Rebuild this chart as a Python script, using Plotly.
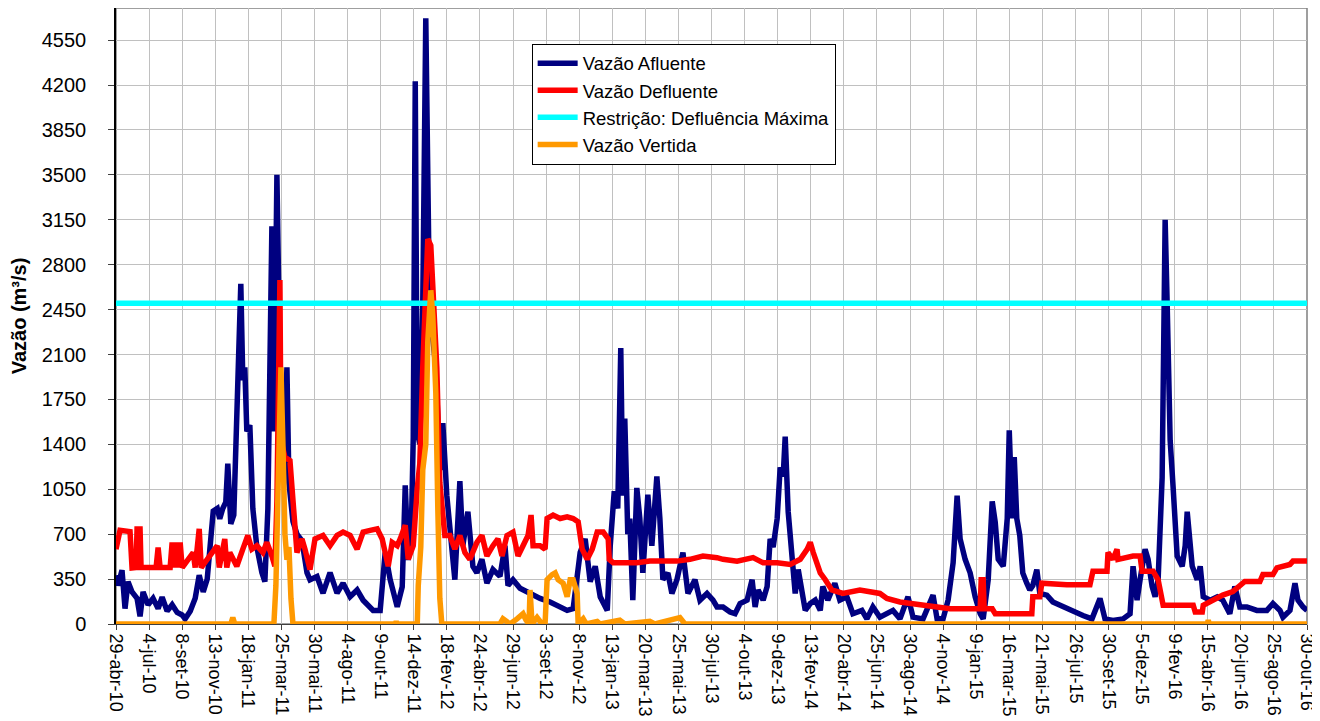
import pandas as pd
import plotly.graph_objects as go

inicio = pd.Timestamp("2010-04-29")

# dias contados a partir de 29-abr-10
afl_dia = [0, 4, 12, 18, 24, 32, 42, 48, 54, 64, 74, 84, 92, 102, 112, 122, 132, 138, 148, 158,
           166, 174, 182, 190, 194, 202, 207, 213, 219, 223, 229, 235, 241, 249, 253, 257, 261, 267,
           273, 281, 291, 297, 303, 307, 311, 315, 319, 321, 325, 331, 337, 341, 345, 353, 361, 371,
           381, 387, 401, 413, 427, 441, 453, 467, 481, 493, 513, 527, 537, 547, 561, 571, 577, 583,
           589, 593, 597, 601, 606, 612, 618, 622, 626, 630, 638, 646, 652, 660, 666, 676, 686, 692,
           702, 712, 720, 730, 740, 752, 766, 776, 782, 792, 806, 826, 846, 866, 886, 900, 912, 920,
           926, 936, 946, 956, 966, 980, 986, 994, 1001, 1007, 1011, 1015, 1021, 1025, 1031, 1039,
           1045, 1051, 1061, 1069, 1079, 1085, 1091, 1101, 1109, 1119, 1131, 1141, 1155, 1165, 1179,
           1191, 1199, 1211, 1225, 1235, 1245, 1259, 1269, 1275, 1281, 1291, 1299, 1305, 1311, 1319,
           1325, 1331, 1335, 1341, 1349, 1355, 1361, 1369, 1375, 1385, 1395, 1405, 1410, 1420, 1434,
           1444, 1458, 1470, 1488, 1498, 1510, 1524, 1538, 1550, 1564, 1580, 1590, 1610, 1630, 1638,
           1650, 1660, 1670, 1678, 1684, 1694, 1704, 1714, 1724, 1730, 1740, 1748, 1754, 1760, 1770,
           1778, 1782, 1788, 1792, 1797, 1803, 1809, 1817, 1823, 1829, 1837, 1843, 1857, 1869, 1889,
           1909, 1929, 1947, 1963, 1973, 1989, 2009, 2023, 2029, 2037, 2043, 2053, 2059, 2067, 2073,
           2079, 2087, 2093, 2097, 2103, 2109, 2117, 2127, 2133, 2137, 2147, 2157, 2163, 2169, 2183,
           2197, 2208, 2222, 2232, 2242, 2256, 2276, 2296, 2308, 2322, 2328, 2342, 2352, 2358, 2368,
           2376]
afl_vazao = [380, 300, 420, 120, 330, 250, 200, 60, 250, 150, 200, 120, 210, 100, 150, 90, 70, 40, 100, 200,
             380, 250, 350, 700, 880, 900, 820, 900, 950, 1250, 780, 850, 1700, 2650, 1900, 2000, 1500, 1550,
             900, 600, 400, 330, 900, 2500, 3100, 1500, 2800, 3500, 2500, 1200, 1500, 2000, 1100, 800, 700, 650,
             400, 345, 370, 240, 400, 240, 318, 212, 265, 185, 106, 106, 557, 345, 133, 290, 1080, 500,
             700, 1450, 4230, 1500, 1400, 2500, 4720, 3200, 2300, 2300, 2000, 1200, 1565, 1000, 742, 345, 1114, 610,
             875, 450, 398, 504, 318, 424, 371, 610, 300, 345, 278, 238, 199, 172, 133, 106, 120, 345,
             557, 663, 330, 450, 212, 106, 610, 1034, 900, 2150, 1000, 1600, 700, 822, 186, 1060,
             822, 398, 1007, 610, 1150, 822, 345, 398, 238, 345, 557, 238, 345, 186, 238,
             186, 133, 133, 93, 80, 160, 186, 345, 133, 265, 186, 292, 663, 600, 822,
             1220, 1150, 1460, 875, 477, 238, 424, 212, 106, 159, 186, 106, 292, 186, 318,
             186, 212, 80, 106, 40, 133, 53, 80, 106, 40, 212, 53, 40, 225, 40,
             40, 186, 477, 1000, 663, 504, 398, 212, 80, 40, 345, 955, 795, 504, 450,
             822, 1510, 822, 1300, 822, 690, 398, 318, 265, 300, 424, 238, 225, 172, 133,
             106, 66, 40, 199, 40, 27, 40, 80, 450, 186, 345, 583, 504, 292, 212,
             345, 1140, 3150, 2500, 1430, 1060, 530, 450, 610, 875, 450, 345, 450, 212, 186,
             212, 186, 80, 292, 133, 133, 106, 106, 159, 106, 53, 106, 318, 186, 133,
             106]

def_dia = [0, 8, 28, 32, 40, 42, 48, 50, 80, 84, 88, 108, 112, 116, 120, 124, 128, 132, 154, 158,
           166, 170, 202, 206, 217, 221, 227, 241, 253, 263, 271, 281, 293, 301, 311, 317, 321, 325,
           327, 329, 331, 337, 347, 361, 371, 377, 387, 397, 413, 427, 441, 453, 467, 481, 493, 507,
           521, 531, 537, 543, 551, 561, 567, 577, 583, 593, 601, 606, 612, 618, 622, 628, 634, 640,
           646, 656, 666, 676, 686, 696, 706, 720, 730, 740, 752, 762, 770, 780, 792, 802, 812, 822,
           828, 832, 846, 856, 860, 872, 886, 900, 912, 922, 930, 940, 950, 960, 972, 982, 984, 992,
           1011, 1039, 1065, 1091, 1119, 1145, 1171, 1199, 1211, 1239, 1271, 1291, 1319, 1345, 1365,
           1379, 1385, 1391, 1405, 1415, 1428, 1450, 1484, 1524, 1538, 1564, 1598, 1638, 1664, 1724,
           1726, 1730, 1732, 1748, 1754, 1827, 1829, 1843, 1847, 1897, 1943, 1949, 1977, 1979, 1989,
           1997, 1999, 2029, 2043, 2047, 2069, 2079, 2089, 2149, 2153, 2167, 2169, 2188, 2208, 2228,
           2252, 2282, 2288, 2308, 2316, 2342, 2348, 2376]
def_vazao = [583, 730, 720, 437, 440, 740, 740, 440, 440, 596, 440, 440, 636, 440, 636, 440, 636, 440, 557, 440,
             742, 440, 610, 440, 663, 440, 557, 450, 583, 690, 583, 610, 557, 636, 530, 450, 955, 2000,
             2680, 1500, 1400, 1300, 1273, 557, 663, 583, 424, 663, 690, 610, 690, 716, 690, 583, 716, 730,
             742, 663, 557, 450, 636, 610, 663, 769, 504, 610, 1060, 1246, 2000, 2700, 3000, 2950, 2500, 2000,
             1100, 690, 690, 583, 690, 557, 504, 636, 690, 530, 610, 663, 530, 690, 716, 530, 610, 690,
             849, 610, 610, 583, 822, 849, 822, 835, 822, 796, 583, 504, 583, 716, 716, 663, 504, 477,
             477, 477, 490, 490, 490, 504, 530, 517, 504, 490, 517, 477, 477, 464, 504,
             583, 636, 557, 398, 345, 265, 238, 265, 238, 199, 172, 159, 133, 119, 119,
             345, 345, 119, 119, 80, 80, 212, 212, 318, 305, 305, 411, 411, 557, 504,
             583, 504, 530, 530, 411, 411, 345, 146, 146, 93, 93, 146, 186, 225, 252,
             331, 331, 385, 385, 438, 464, 490, 490]

ver_dia = [0, 229, 233, 237, 315, 319, 323, 327, 329, 333, 337, 341, 345, 349, 353, 557, 559, 561,
           601, 603, 608, 612, 618, 622, 628, 632, 638, 642, 646, 650, 766, 772, 786, 800, 806, 812,
           818, 824, 826, 830, 840, 850, 856, 860, 870, 876, 882, 888, 892, 900, 906, 912, 920, 922,
           932, 938, 960, 966, 1005, 1015, 1065, 1075, 1115, 1125, 1135, 2177, 2179, 2181, 2376]
ver_vazao = [0, 0, 50, 0, 0, 300, 1000, 1700, 2000, 1400, 700, 500, 600, 200, 0, 0, 20, 0,
             0, 300, 600, 1200, 1400, 2200, 2600, 2400, 1800, 900, 200, 0, 0, 40, 0, 40, 60, 80,
             30, 0, 265, 0, 50, 0, 0, 345, 385, 398, 345, 330, 318, 212, 345, 345, 238, 0,
             40, 0, 20, 0, 30, 0, 20, 0, 40, 50, 0, 0, 30, 0, 0]

restr_dia = [0, 2376]
restr_vazao = [2500, 2500]

rotulos_x = ["29-abr-10", "4-jul-10", "8-set-10", "13-nov-10", "18-jan-11", "25-mar-11", "30-mai-11",
             "4-ago-11", "9-out-11", "14-dez-11", "18-fev-12", "24-abr-12", "29-jun-12", "3-set-12",
             "8-nov-12", "13-jan-13", "20-mar-13", "25-mai-13", "30-jul-13", "4-out-13", "9-dez-13",
             "13-fev-14", "20-abr-14", "25-jun-14", "30-ago-14", "4-nov-14", "9-jan-15", "16-mar-15",
             "21-mai-15", "26-jul-15", "30-set-15", "5-dez-15", "9-fev-16", "15-abr-16", "20-jun-16",
             "25-ago-16", "30-out-16"]


def datas(dias):
    return inicio + pd.to_timedelta(dias, unit="D")


fig = go.Figure()

series = [
    ("Vazão Afluente", afl_dia, afl_vazao, "#000080"),
    ("Vazão Defluente", def_dia, def_vazao, "#FF0000"),
    ("Restrição: Defluência Máxima", restr_dia, restr_vazao, "#00FFFF"),
    ("Vazão Vertida", ver_dia, ver_vazao, "#FF9900"),
]
for nome, dias, vals, cor in series:
    fig.add_trace(go.Scatter(
        x=datas(dias), y=vals, name=nome, mode="lines",
        line=dict(color=cor, width=5.5), legendgroup=nome,
    ))

ticks_x = pd.date_range(inicio, periods=len(rotulos_x), freq="66D")

fig.add_shape(type="rect", xref="paper", yref="paper", x0=0, y0=0, x1=1, y1=1,
              line=dict(color="#808080", width=1.5), layer="below")

# a página tem 8 px de margem no corpo; a figura é reduzida para caber na janela
fig.update_layout(
    width=1312, height=713,
    margin=dict(l=108, r=13, t=0, b=97),
    paper_bgcolor="white", plot_bgcolor="white",
    font=dict(family="Liberation Sans, Arial, sans-serif", color="black", size=18),
    legend=dict(x=0.349, y=0.942, xanchor="left", yanchor="top",
                bgcolor="white", bordercolor="black", borderwidth=1,
                font=dict(size=18.5), tracegroupgap=0, itemwidth=40),
    showlegend=True,
)
fig.update_xaxes(
    range=[inicio, datas([2376])[0]],
    tickvals=ticks_x, ticktext=rotulos_x, tickangle=90,
    tickfont=dict(size=18), automargin=False,
    showgrid=True, gridcolor="#C0C0C0", gridwidth=1,
    ticks="outside", ticklen=5, tickcolor="#404040",
    showline=True, linecolor="#404040", linewidth=1,
)
fig.update_yaxes(
    range=[0, 4800], tick0=0, dtick=350,
    tickfont=dict(size=20), automargin=False, ticklabelstandoff=18,
    title=dict(text="Vazão (m³/s)", font=dict(size=20, weight="bold"), standoff=16),
    showgrid=True, gridcolor="#C0C0C0", gridwidth=1,
    ticks="outside", ticklen=6, tickcolor="#404040",
    showline=True, linecolor="black", linewidth=1.5,
    zeroline=False,
)

fig.write_html("out.html")
